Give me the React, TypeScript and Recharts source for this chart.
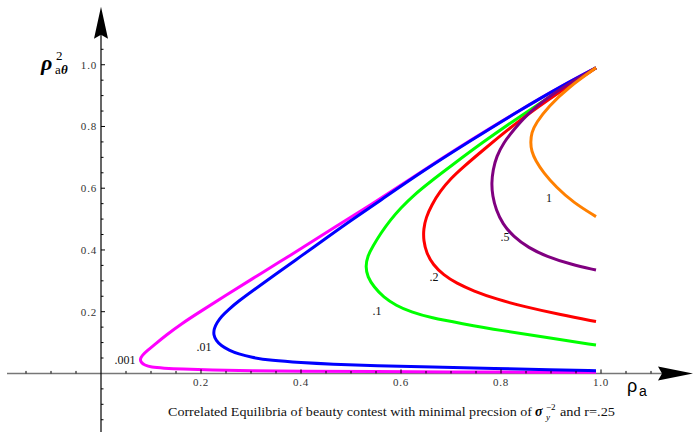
import { LineChart, Line, XAxis, YAxis, ReferenceLine, ReferenceDot } from "recharts";

// points (ρa, ρ²aθ): lower branch -> nose -> upper branch
const curve001: [number, number][] = [
  [0.99, 0.004], [0.85, 0.004], [0.7, 0.005], [0.55, 0.006], [0.4, 0.007], [0.3, 0.009],
  [0.22, 0.011], [0.16, 0.014], [0.125, 0.017], [0.1, 0.02], [0.087, 0.027], [0.08, 0.036],
  [0.078, 0.046], [0.082, 0.058], [0.092, 0.073], [0.106, 0.092], [0.131, 0.125], [0.16, 0.16],
  [0.2, 0.202], [0.25, 0.253], [0.3, 0.304], [0.36, 0.364], [0.4, 0.404], [0.46, 0.466],
  [0.555, 0.562], [0.64, 0.653], [0.74, 0.757], [0.84, 0.855], [0.92, 0.93], [0.99, 0.99],
];
const curve01: [number, number][] = [
  [0.99, 0.009], [0.9, 0.012], [0.79, 0.016], [0.66, 0.021], [0.55, 0.025], [0.46, 0.03],
  [0.4, 0.035], [0.34, 0.042], [0.3, 0.052], [0.275, 0.063], [0.256, 0.075], [0.24, 0.09],
  [0.23, 0.107], [0.225, 0.125], [0.226, 0.145], [0.232, 0.165], [0.241, 0.185], [0.255, 0.207],
  [0.275, 0.234], [0.3, 0.264], [0.35, 0.322], [0.4, 0.38], [0.45, 0.438], [0.5, 0.496],
  [0.555, 0.556], [0.64, 0.652], [0.74, 0.755], [0.84, 0.855], [0.92, 0.93], [0.99, 0.99],
];
const curve1: [number, number][] = [
  [0.99, 0.092], [0.9, 0.114], [0.8, 0.139], [0.72, 0.162], [0.66, 0.18], [0.62, 0.199],
  [0.59, 0.22], [0.565, 0.247], [0.546, 0.28], [0.533, 0.313], [0.529, 0.346], [0.533, 0.38],
  [0.544, 0.413], [0.56, 0.455], [0.578, 0.496], [0.6, 0.537], [0.625, 0.577], [0.66, 0.623],
  [0.7, 0.672], [0.76, 0.745], [0.84, 0.835], [0.92, 0.92], [0.99, 0.99],
];
const curve2: [number, number][] = [
  [0.99, 0.168], [0.92, 0.19], [0.845, 0.217], [0.79, 0.241], [0.745, 0.267], [0.711, 0.292],
  [0.685, 0.319], [0.664, 0.352], [0.651, 0.39], [0.645, 0.43], [0.645, 0.468], [0.65, 0.505],
  [0.661, 0.545], [0.678, 0.59], [0.7, 0.632], [0.722, 0.665], [0.76, 0.718], [0.84, 0.825],
  [0.92, 0.915], [0.99, 0.99],
];
const curve5: [number, number][] = [
  [0.99, 0.335], [0.94, 0.353], [0.891, 0.379], [0.855, 0.407], [0.825, 0.443], [0.803, 0.485],
  [0.79, 0.53], [0.783, 0.575], [0.781, 0.617], [0.784, 0.66], [0.791, 0.703], [0.805, 0.747],
  [0.825, 0.789], [0.86, 0.853], [0.91, 0.912], [0.95, 0.953], [0.99, 0.99],
];
const curve10: [number, number][] = [
  [0.99, 0.508], [0.945, 0.553], [0.91, 0.604], [0.885, 0.65], [0.869, 0.69], [0.861, 0.72],
  [0.859, 0.748], [0.861, 0.78], [0.87, 0.812], [0.895, 0.865], [0.935, 0.927], [0.99, 0.99],
];

const precisions = [".001", ".01", ".1", ".2", ".5", "1"];
const curves = [curve001, curve01, curve1, curve2, curve5, curve10];
// where each precision label sits (data coords)
const labelAnchors: [number, number][] = [
  [0.048, 0.044], [0.206, 0.086], [0.552, 0.202], [0.666, 0.311], [0.808, 0.442], [0.896, 0.567],
];

const xMajor = [0.2, 0.4, 0.6, 0.8, 1.0];
const xMinor = [-0.15, -0.1, -0.05, 0.05, 0.1, 0.15, 0.25, 0.3, 0.35, 0.45, 0.5, 0.55, 0.65, 0.7, 0.75, 0.85, 0.9, 0.95, 1.05, 1.1];
const yMajor = [0.2, 0.4, 0.6, 0.8, 1.0];
const yMinor = [-0.15, -0.1, -0.05, 0.05, 0.1, 0.15, 0.25, 0.3, 0.35, 0.45, 0.5, 0.55, 0.65, 0.7, 0.75, 0.85, 0.9, 0.95, 1.05];

const colors = ["#ff00ff", "#0000ff", "#00ff00", "#ff0000", "#800080", "#ff8000"];
const serif = "'Liberation Serif', 'Times New Roman', serif";
const sans = "'Liberation Sans', Arial, sans-serif";

const HArrow = (p: any) => {
  const { x1, y1, x2 } = p;
  return (
    <g>
      <line x1={x1} y1={y1} x2={x2 - 20} y2={y1} stroke="#777" strokeWidth={1.6} />
      <polygon points={`${x2},${y1} ${x2 - 35},${y1 - 7} ${x2 - 31},${y1} ${x2 - 35},${y1 + 7}`} fill="#000" />
    </g>
  );
};

const VArrow = (p: any) => {
  const { x1, y1, y2 } = p;
  const top = Math.min(y1, y2);
  const bot = Math.max(y1, y2);
  return (
    <g>
      <line x1={x1} y1={bot} x2={x1} y2={top + 20} stroke="#000" strokeWidth={1.2} />
      <polygon points={`${x1},${top} ${x1 - 7},${top + 32} ${x1},${top + 28} ${x1 + 7},${top + 32}`} fill="#000" />
    </g>
  );
};

const xTick = (len: number, label?: string) => (p: any) => (
  <g>
    <line x1={p.cx} y1={p.cy} x2={p.cx} y2={p.cy - len} stroke="#000" strokeWidth={1} />
    {label && (
      <text x={p.cx} y={p.cy + 13} textAnchor="middle" fontFamily={serif} fontSize={11} letterSpacing={0.8} fill="#333">
        {label}
      </text>
    )}
  </g>
);

const yTick = (len: number, label?: string) => (p: any) => (
  <g>
    <line x1={p.cx} y1={p.cy} x2={p.cx + len} y2={p.cy} stroke="#000" strokeWidth={1} />
    {label && (
      <text x={p.cx - 4} y={p.cy + 4} textAnchor="end" fontFamily={serif} fontSize={11} letterSpacing={0.8} fill="#333">
        {label}
      </text>
    )}
  </g>
);

const curveLabel = (text: string) => (p: any) => (
  <text x={p.cx} y={p.cy + 4} textAnchor="middle" fontFamily={serif} fontSize={12} fill="#111">
    {text}
  </text>
);

export default function App() {
  return (
    <div style={{ position: "absolute", left: 0, top: 0, width: 694, height: 432, background: "#fff" }}>
      <LineChart width={694} height={432} margin={{ top: 3, right: 3, bottom: 3, left: 1 }}>
        <XAxis type="number" dataKey="x" domain={[-0.2, 1.18]} hide allowDataOverflow />
        <YAxis type="number" dataKey="y" domain={[-0.18, 1.2]} hide allowDataOverflow />

        <ReferenceLine segment={[{ x: -0.188, y: 0 }, { x: 1.184, y: 0 }]} ifOverflow="visible" shape={HArrow} />
        <ReferenceLine segment={[{ x: 0, y: -0.19 }, { x: 0, y: 1.188 }]} ifOverflow="visible" shape={VArrow} />

        {xMinor.map((v) => (
          <ReferenceDot key={"xm" + v} x={v} y={0} r={0} ifOverflow="visible" shape={xTick(2.5)} />
        ))}
        {xMajor.map((v) => (
          <ReferenceDot key={"xM" + v} x={v} y={0} r={0} ifOverflow="visible" shape={xTick(4, v.toFixed(1))} />
        ))}
        {yMinor.map((v) => (
          <ReferenceDot key={"ym" + v} x={0} y={v} r={0} ifOverflow="visible" shape={yTick(2.5)} />
        ))}
        {yMajor.map((v) => (
          <ReferenceDot key={"yM" + v} x={0} y={v} r={0} ifOverflow="visible" shape={yTick(4, v.toFixed(1))} />
        ))}

        {curves.map((pts, i) => (
          <Line
            key={precisions[i]}
            data={pts.map(([x, y]) => ({ x, y }))}
            dataKey="y"
            type="basis"
            stroke={colors[i]}
            strokeWidth={3}
            dot={false}
            activeDot={false}
            isAnimationActive={false}
          />
        ))}

        {labelAnchors.map(([x, y], i) => (
          <ReferenceDot key={"lab" + i} x={x} y={y} r={0} ifOverflow="visible" shape={curveLabel(precisions[i])} />
        ))}
      </LineChart>

      <svg width={694} height={432} style={{ position: "absolute", left: 0, top: 0, pointerEvents: "none" }}>
        {/* y title */}
        <text x={41} y={70} fontFamily={serif} fontSize={22} fontWeight="bold" fontStyle="italic" fill="#000">ρ</text>
        <text x={56} y={60} fontFamily={serif} fontSize={13} fill="#000">2</text>
        <text x={55} y={74} fontFamily={serif} fontSize={13} fill="#000">a</text>
        <text x={61} y={74} fontFamily={serif} fontSize={13} fontWeight="bold" fontStyle="italic" fill="#000">θ</text>
        {/* x title */}
        <text x={627} y={392} fontFamily={sans} fontSize={18} fill="#000">ρ</text>
        <text x={639} y={396} fontFamily={sans} fontSize={14} fill="#000">a</text>
        {/* caption */}
        <text x={168} y={416} fontFamily={serif} fontSize={13} fill="#111" textLength={364} lengthAdjust="spacingAndGlyphs">
          Correlated Equilibria of beauty contest with minimal precsion of
        </text>
        <text x={535} y={416} fontFamily={serif} fontSize={14} fontWeight="bold" fontStyle="italic" fill="#000">σ</text>
        <text x={546} y={420} fontFamily={serif} fontSize={9} fontStyle="italic" fill="#000">y</text>
        <text x={546} y={410} fontFamily={serif} fontSize={9} fill="#000">−2</text>
        <text x={560} y={416} fontFamily={serif} fontSize={13} fill="#111" textLength={55} lengthAdjust="spacingAndGlyphs">
          and r=.25
        </text>
      </svg>
    </div>
  );
}
